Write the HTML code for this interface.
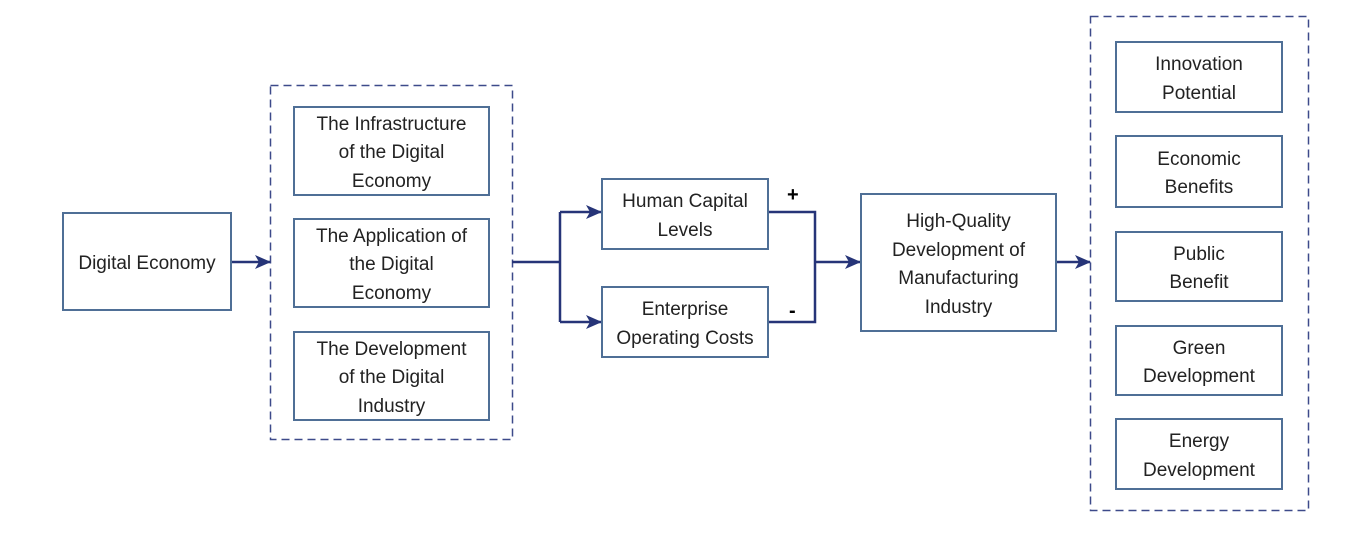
<!DOCTYPE html>
<html><head><style>
body{margin:0;background:#fff;width:1345px;height:537px;overflow:hidden;font-family:"Liberation Sans",sans-serif}
.b{position:absolute;box-sizing:border-box;border:2px solid #4f6f96;display:flex;align-items:center;justify-content:center;text-align:center;font-size:19px;line-height:28.5px;color:#222;background:#fff;padding-top:5px}
svg{position:absolute;left:0;top:0}
.s{position:absolute;font-size:20px;font-weight:bold;color:#000}
</style></head><body>
<svg width="1345" height="537">
<defs><marker id="a" markerWidth="16" markerHeight="16" refX="15" refY="8" orient="auto" markerUnits="userSpaceOnUse"><path d="M0,1 L16,8 L0,15 L4,8 Z" fill="#263478"/></marker></defs>
<g stroke="#3d4a8a" stroke-width="1.5" fill="none" stroke-dasharray="8,5">
<rect x="270.5" y="85.5" width="242" height="354"/>
<rect x="1090.5" y="16.5" width="218" height="494"/>
</g>
<g stroke="#263478" stroke-width="2.5" fill="none">
<path d="M232,262 H270" marker-end="url(#a)"/>
<path d="M512,262 H560"/>
<path d="M560,212 V322"/>
<path d="M560,212 H601" marker-end="url(#a)"/>
<path d="M560,322 H601" marker-end="url(#a)"/>
<path d="M768,212 H815 V322 H768"/>
<path d="M815,262 H860" marker-end="url(#a)"/>
<path d="M1056,262 H1090" marker-end="url(#a)"/>
</g>
</svg>
<div class="b" style="left:62px;top:212px;width:170px;height:99px">Digital Economy</div>
<div class="b" style="left:293px;top:106px;width:197px;height:90px">The Infrastructure<br>of the Digital<br>Economy</div>
<div class="b" style="left:293px;top:218px;width:197px;height:90px">The Application of<br>the Digital<br>Economy</div>
<div class="b" style="left:293px;top:331px;width:197px;height:90px">The Development<br>of the Digital<br>Industry</div>
<div class="b" style="left:601px;top:178px;width:168px;height:72px">Human Capital<br>Levels</div>
<div class="b" style="left:601px;top:286px;width:168px;height:72px">Enterprise<br>Operating Costs</div>
<div class="b" style="left:860px;top:193px;width:197px;height:139px">High-Quality<br>Development of<br>Manufacturing<br>Industry</div>
<div class="b" style="left:1115px;top:41px;width:168px;height:72px">Innovation<br>Potential</div>
<div class="b" style="left:1115px;top:135px;width:168px;height:73px">Economic<br>Benefits</div>
<div class="b" style="left:1115px;top:231px;width:168px;height:71px">Public<br>Benefit</div>
<div class="b" style="left:1115px;top:325px;width:168px;height:71px">Green<br>Development</div>
<div class="b" style="left:1115px;top:418px;width:168px;height:72px">Energy<br>Development</div>
<div class="s" style="left:787px;top:184px">+</div>
<div class="s" style="left:789px;top:300px">-</div>
</body></html>
